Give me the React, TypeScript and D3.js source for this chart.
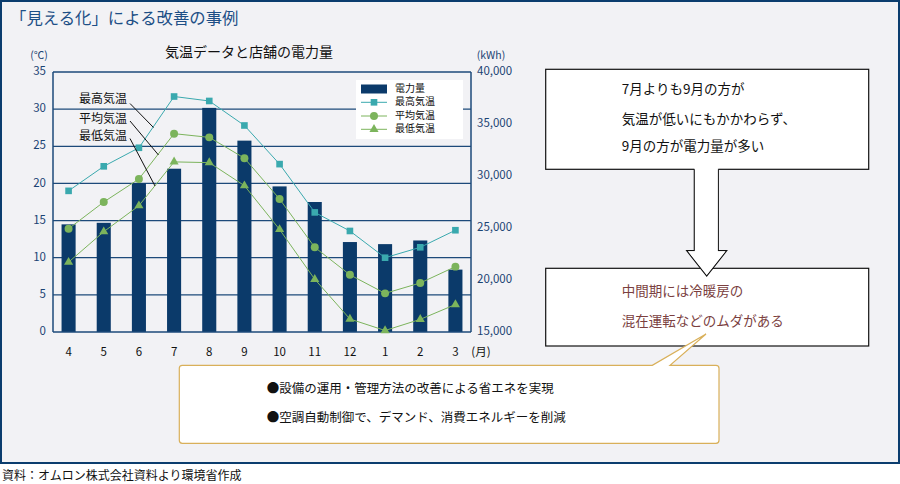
import React from "react";
import * as d3 from "d3";

const months = ["4", "5", "6", "7", "8", "9", "10", "11", "12", "1", "2", "3"];
const power = [25350, 25500, 29300, 30700, 36550, 33400, 29000, 27500, 23650, 23450, 23800, 21000];
const maxTemp = [19.0, 22.3, 24.8, 31.7, 31.1, 27.8, 22.6, 16.1, 13.6, 10.0, 11.4, 13.7];
const avgTemp = [13.9, 17.5, 20.6, 26.7, 26.2, 23.4, 17.9, 11.4, 7.7, 5.2, 6.6, 8.8];
const minTemp = [9.4, 13.5, 17.0, 22.9, 22.8, 19.7, 13.8, 7.1, 1.75, 0.2, 1.7, 3.7];
const leftTicks = [0, 5, 10, 15, 20, 25, 30, 35];
const rightTicks = [15000, 20000, 25000, 30000, 35000, 40000];
const legendLabels = ["電力量", "最高気温", "平均気温", "最低気温"];
const box1Lines = ["7月よりも9月の方が", "気温が低いにもかかわらず、", "9月の方が電力量が多い"];
const box2Lines = ["中間期には冷暖房の", "混在運転などのムダがある"];
const box3Lines = ["●設備の運用・管理方法の改善による省エネを実現", "●空調自動制御で、デマンド、消費エネルギーを削減"];

const FONT = "'Noto Sans CJK JP', 'Noto Sans', sans-serif";
const NAVY = "#0b3a6a";
const GRID = "#1d4a7a";
const TEAL = "#3aa9ae";
const GREEN = "#7cb45c";
const AXISTXT = "#1b4373";

export default function App() {
  const plotL = 53, plotR = 471, plotT = 72, plotB = 332;
  const x = d3.scaleBand<string>().domain(months).range([51, 473]).paddingInner(0.6).paddingOuter(0.3);
  const yL = d3.scaleLinear().domain([0, 35]).range([plotB, plotT]);
  const yR = d3.scaleLinear().domain([15000, 40000]).range([plotB, plotT]);
  const cx = (m: string) => (x(m) as number) + x.bandwidth() / 2;
  const lineGen = d3.line<number>().x((_, i) => cx(months[i])).y((d) => yL(d));
  const sq = d3.symbol().type(d3.symbolSquare).size(44)()!;
  const circ = d3.symbol().type(d3.symbolCircle).size(50)()!;
  const tri = d3.symbol().type(d3.symbolTriangle).size(36)()!;

  const series = [
    { data: maxTemp, color: TEAL, sym: sq },
    { data: avgTemp, color: GREEN, sym: circ },
    { data: minTemp, color: GREEN, sym: tri },
  ];

  return (
    <svg width={900} height={484} style={{ position: "absolute", left: 0, top: 0, display: "block", background: "#fff" }} fontFamily={FONT}>
      <rect x={1} y={1} width={898} height={462} fill="#f2f2f5" stroke="#0b3d6e" strokeWidth={2} />
      <text x={10} y={20} fontSize={16.4} fill="#1d4f86" dominantBaseline="middle">「見える化」による改善の事例</text>

      {/* chart */}
      <text x={249} y={53} fontSize={14} fill="#111" textAnchor="middle" dominantBaseline="middle">気温データと店舗の電力量</text>
      <text x={39} y={56} fontSize={10.5} fill={AXISTXT} textAnchor="middle" dominantBaseline="middle">(℃)</text>
      <text x={491} y={56} fontSize={10.5} fill={AXISTXT} textAnchor="middle" dominantBaseline="middle">(kWh)</text>

      {leftTicks.map((t) => (
        <g key={"l" + t}>
          {t > 0 && <line x1={plotL} x2={plotR} y1={yL(t)} y2={yL(t)} stroke={GRID} strokeWidth={1.3} />}
          <text x={46} y={yL(t)} fontSize={11.5} fill={AXISTXT} textAnchor="end" dominantBaseline="middle">{t}</text>
        </g>
      ))}
      {rightTicks.map((t) => (
        <text key={"r" + t} x={477} y={yR(t)} fontSize={11.5} fill={AXISTXT} textAnchor="start" dominantBaseline="middle">{d3.format(",")(t)}</text>
      ))}

      {power.map((v, i) => (
        <rect key={"b" + i} x={x(months[i])} y={yR(v)} width={x.bandwidth()} height={plotB - yR(v)} fill={NAVY} />
      ))}

      <line x1={plotL} x2={plotL} y1={plotT} y2={plotB} stroke={GRID} strokeWidth={1.5} />
      <line x1={plotR} x2={plotR} y1={plotT} y2={plotB} stroke={GRID} strokeWidth={1.5} />
      <line x1={plotL} x2={plotR} y1={plotB} y2={plotB} stroke={GRID} strokeWidth={1.5} />

      {series.map((s, si) => (
        <g key={"s" + si}>
          <path d={lineGen(s.data)!} fill="none" stroke={s.color} strokeWidth={1} />
          {s.data.map((v, i) => (
            <path key={i} d={s.sym} transform={`translate(${cx(months[i])},${yL(v)})`} fill={s.color} />
          ))}
        </g>
      ))}

      {months.map((m) => (
        <text key={"x" + m} x={cx(m)} y={353} fontSize={11.5} fill="#111" textAnchor="middle" dominantBaseline="middle">{m}</text>
      ))}
      <text x={481} y={353} fontSize={11.5} fill="#111" textAnchor="middle" dominantBaseline="middle">(月)</text>

      {/* legend */}
      <rect x={356} y={80} width={107} height={59} fill="#fff" />
      {legendLabels.map((lab, i) => {
        const ly = [89, 102.3, 116, 129.3][i];
        return (
          <g key={"lg" + i}>
            {i === 0 ? (
              <rect x={361} y={ly - 4.5} width={26} height={9} fill={NAVY} />
            ) : (
              <g>
                <line x1={361} x2={387} y1={ly} y2={ly} stroke={series[i - 1].color} strokeWidth={1} />
                <path d={series[i - 1].sym} transform={`translate(374,${ly})`} fill={series[i - 1].color} />
              </g>
            )}
            <text x={395} y={ly} fontSize={10} fill="#111" dominantBaseline="middle">{lab}</text>
          </g>
        );
      })}

      {/* annotations */}
      <text x={79} y={100} fontSize={12} fill="#111" dominantBaseline="middle">最高気温</text>
      <text x={79} y={120} fontSize={12} fill="#111" dominantBaseline="middle">平均気温</text>
      <text x={79} y={137} fontSize={12} fill="#111" dominantBaseline="middle">最低気温</text>
      <line x1={130} y1={103.5} x2={153.5} y2={127.5} stroke="#111" strokeWidth={1} />
      <line x1={130} y1={121} x2={158.5} y2={155} stroke="#111" strokeWidth={1} />
      <line x1={130} y1={138.5} x2={155} y2={186} stroke="#111" strokeWidth={1} />

      {/* callout 1 */}
      <rect x={545.7} y={69.3} width={323} height={100} fill="#fff" stroke="#111" strokeWidth={1.2} />
      {box1Lines.map((t, i) => (
        <text key={"b1" + i} x={621.7} y={[90.7, 120.7, 147.3][i]} fontSize={13.5} fill="#111" dominantBaseline="middle">{t}</text>
      ))}

      {/* callout 2 */}
      <rect x={545.7} y={268.3} width={323} height={77.7} fill="#fff" stroke="#111" strokeWidth={1.2} />
      {box2Lines.map((t, i) => (
        <text key={"b2" + i} x={621.7} y={[292.3, 322.3][i]} fontSize={13.5} fill="#7b3f3f" dominantBaseline="middle">{t}</text>
      ))}

      {/* arrow */}
      <path d="M694.3,168 V250.7 H686.7 L706.7,276 L726.7,250.7 H718.3 V168 Z" fill="#f2f2f5" stroke="none" />
      <path d="M694.3,169.3 V250.7 H686.7 L706.7,276 L726.7,250.7 H718.3 V169.3" fill="none" stroke="#111" strokeWidth={1.2} />
      <path d="M694.9,168 V251.3 H688 L706.7,274.8 L725.4,251.3 H717.7 V168 Z" fill="#fff" stroke="none" />

      {/* callout 3 */}
      <path
        d="M182.3,365.3 H652.3 L706,334 L670,365.3 H716 Q719,365.3 719,368.3 V440.3 Q719,443.3 716,443.3 H182.3 Q179.3,443.3 179.3,440.3 V368.3 Q179.3,365.3 182.3,365.3 Z"
        fill="#fff"
        stroke="#d9b05a"
        strokeWidth={1.2}
      />
      {box3Lines.map((t, i) => (
        <text key={"b3" + i} x={266.7} y={[390, 418.3][i]} fontSize={12.5} fill="#111" dominantBaseline="middle">{t}</text>
      ))}

      <text x={2} y={476.5} fontSize={12} fill="#111" dominantBaseline="middle">資料：オムロン株式会社資料より環境省作成</text>
    </svg>
  );
}
